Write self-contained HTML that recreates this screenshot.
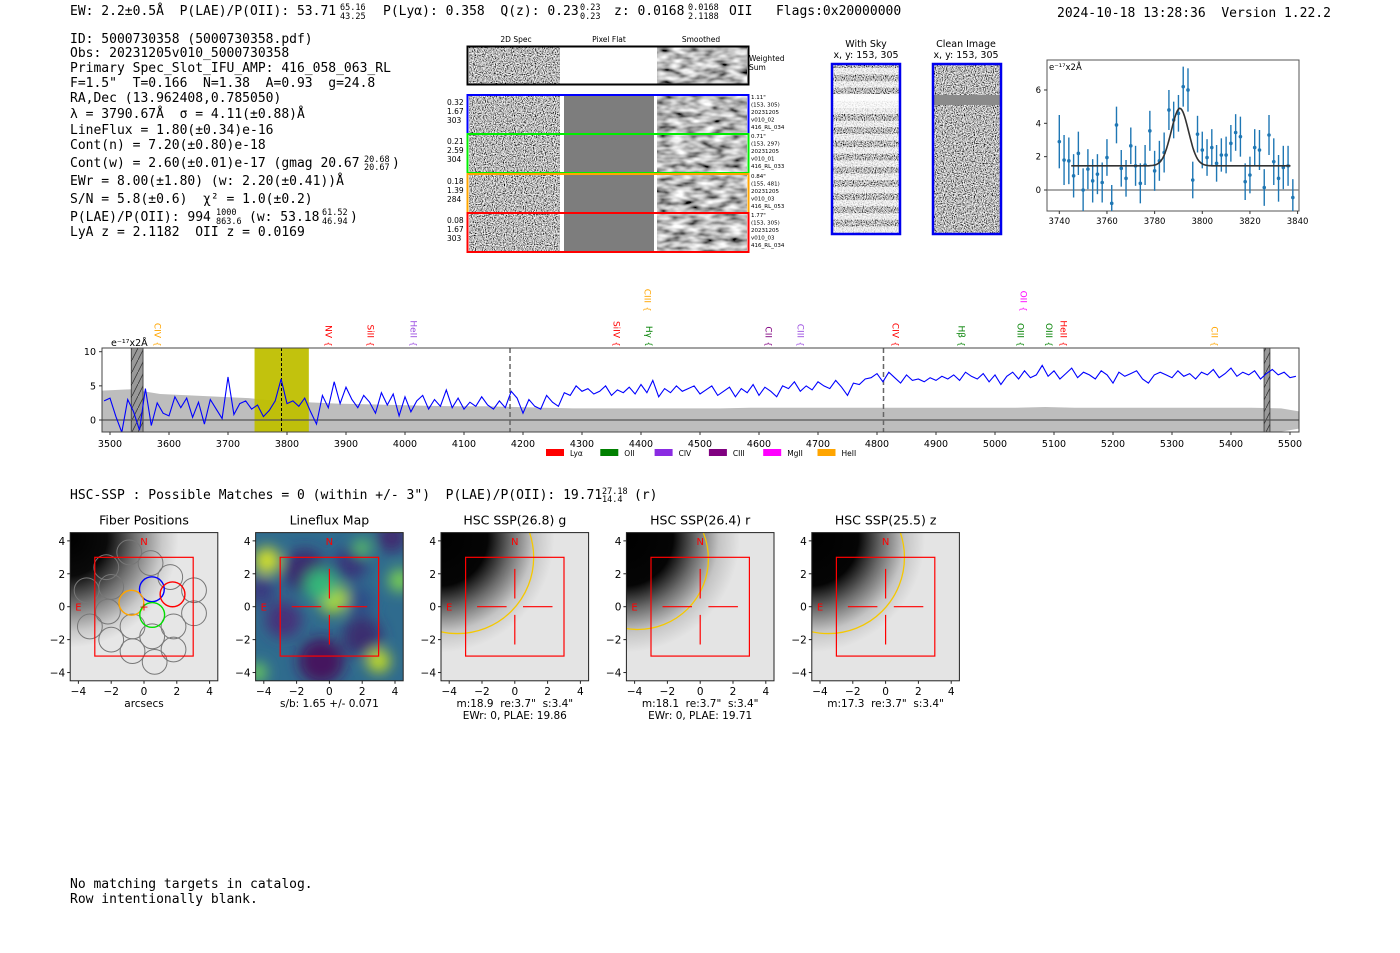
<!DOCTYPE html>
<html><head><meta charset="utf-8">
<style>
html,body{margin:0;padding:0;background:#fff;}
svg{display:block;}
.mono{font-family:"DejaVu Sans Mono","Liberation Mono",monospace;font-size:13px;fill:#000;white-space:pre;}
.sup{font-size:8.5px;}
.sans{font-family:"DejaVu Sans","Liberation Sans",sans-serif;fill:#000;}
</style></head>
<body>
<svg id="page" width="1400" height="953" viewBox="0 0 1400 953" xmlns="http://www.w3.org/2000/svg" xml:space="preserve">
<defs>
  <filter id="nz" x="0" y="0" width="1" height="1" filterUnits="objectBoundingBox">
    <feTurbulence type="fractalNoise" baseFrequency="0.9" numOctaves="1" seed="3"/>
    <feColorMatrix type="matrix" values="2.6 0 0 0 -0.8  2.6 0 0 0 -0.8  2.6 0 0 0 -0.8  0 0 0 0 1"/>
  </filter>
  <filter id="nzs" x="0" y="0" width="1" height="1">
    <feTurbulence type="fractalNoise" baseFrequency="0.07 0.16" numOctaves="2" seed="7"/>
    <feColorMatrix type="matrix" values="1.7 0 0 0 -0.35  1.7 0 0 0 -0.35  1.7 0 0 0 -0.35  0 0 0 0 1"/>
  </filter>
  <filter id="blur6"><feGaussianBlur stdDeviation="7"/></filter>
  <pattern id="hatch" width="6" height="12" patternUnits="userSpaceOnUse">
    <rect width="6" height="12" fill="#999"/><path d="M0 12 L6 0" stroke="#333" stroke-width="0.8"/>
  </pattern>
</defs>

<!-- header -->
<g>
  <text class="mono" x="70" y="15">EW: 2.2±0.5Å  P(LAE)/P(OII): 53.71</text>
  <text class="mono sup" x="340" y="10">65.16</text>
  <text class="mono sup" x="340" y="19">43.25</text>
  <text class="mono" x="383" y="15">P(Lyα): 0.358  Q(z): 0.23</text>
  <text class="mono sup" x="580" y="10">0.23</text>
  <text class="mono sup" x="580" y="19">0.23</text>
  <text class="mono" x="614" y="15">z: 0.0168</text>
  <text class="mono sup" x="688" y="10">0.0168</text>
  <text class="mono sup" x="688" y="19">2.1188</text>
  <text class="mono" x="729" y="15">OII   Flags:0x20000000</text>
  <text class="mono" x="1057" y="17">2024-10-18 13:28:36  Version 1.22.2</text>
</g>

<g>
  <text class="mono" x="70" y="43">ID: 5000730358 (5000730358.pdf)</text>
  <text class="mono" x="70" y="57">Obs: 20231205v010_5000730358</text>
  <text class="mono" x="70" y="72">Primary Spec_Slot_IFU_AMP: 416_058_063_RL</text>
  <text class="mono" x="70" y="87">F=1.5"  T=0.166  N=1.38  A=0.93  g=24.8</text>
  <text class="mono" x="70" y="102">RA,Dec (13.962408,0.785050)</text>
  <text class="mono" x="70" y="118">λ = 3790.67Å  σ = 4.11(±0.88)Å</text>
  <text class="mono" x="70" y="134">LineFlux = 1.80(±0.34)e-16</text>
  <text class="mono" x="70" y="149">Cont(n) = 7.20(±0.80)e-18</text>
  <text class="mono" x="70" y="167">Cont(w) = 2.60(±0.01)e-17 (gmag 20.67</text>
  <text class="mono sup" x="364" y="162">20.68</text>
  <text class="mono sup" x="364" y="170">20.67</text>
  <text class="mono" x="392" y="167">)</text>
  <text class="mono" x="70" y="185">EWr = 8.00(±1.80) (w: 2.20(±0.41))Å</text>
  <text class="mono" x="70" y="203">S/N = 5.8(±0.6)  χ² = 1.0(±0.2)</text>
  <text class="mono" x="70" y="221">P(LAE)/P(OII): 994</text>
  <text class="mono sup" x="216" y="215">1000</text>
  <text class="mono sup" x="216" y="224">863.6</text>
  <text class="mono" x="249" y="221">(w: 53.18</text>
  <text class="mono sup" x="322" y="215">61.52</text>
  <text class="mono sup" x="322" y="224">46.94</text>
  <text class="mono" x="350" y="221">)</text>
  <text class="mono" x="70" y="236">LyA z = 2.1182  OII z = 0.0169</text>
</g>

<g id="cutouts"></g>
<g id="fit"></g>
<g id="spec"></g>

<text class="mono" x="70" y="499">HSC-SSP : Possible Matches = 0 (within +/- 3")  P(LAE)/P(OII): 19.71</text>
<text class="mono sup" x="602" y="494">27.18</text>
<text class="mono sup" x="602" y="502">14.4</text>
<text class="mono" x="634" y="499">(r)</text>

<g id="panels"></g>

<text class="mono" x="70" y="888">No matching targets in catalog.</text>
<text class="mono" x="70" y="903">Row intentionally blank.</text>
</svg>

<script>
// ---------- data ----------
const fluxStart = 3490, fluxStep = 10;
const flux = [
2.8,3.2,0.5,-1.8,3.0,1.2,-1.5,4.6,-0.8,2.5,
1.0,0.6,3.4,1.8,3.2,0.4,2.6,-0.6,3.0,1.6,
0.2,6.3,0.8,2.4,2.8,1.6,2.2,0.5,1.4,2.8,
6.0,2.4,2.8,2.0,3.2,1.2,-0.6,3.6,1.8,5.6,
2.4,4.8,3.0,1.8,3.6,2.6,1.0,4.0,2.2,3.8,
0.6,3.4,1.2,2.8,3.6,1.6,3.0,2.0,4.4,1.8,
3.2,1.6,2.6,2.0,3.4,2.2,1.6,2.8,1.8,4.2,
3.2,1.0,3.0,2.0,1.6,3.6,2.6,2.0,4.0,3.6,
5.0,4.2,4.6,3.8,4.2,5.0,3.6,4.4,4.0,4.8,
3.8,5.2,4.0,5.8,3.4,4.6,4.0,5.0,4.2,4.6,
5.0,3.8,4.4,5.0,3.6,4.2,4.8,3.4,4.6,4.0,
5.2,3.6,4.8,4.2,3.4,5.0,4.6,5.6,4.2,5.0,
4.4,5.6,5.0,4.6,5.8,4.8,3.6,5.4,5.2,6.0,
6.2,6.8,5.6,7.0,6.2,5.4,6.6,5.8,6.0,5.6,
6.2,5.8,6.4,6.0,6.6,5.8,7.0,6.4,6.0,6.8,
5.6,6.6,5.2,6.4,7.0,6.0,7.2,6.2,6.6,8.0,
6.4,7.2,6.0,6.8,7.6,6.2,7.0,6.6,6.0,7.2,
6.6,5.4,7.0,6.4,6.8,7.2,6.0,5.4,6.6,7.0,
6.6,6.2,7.2,6.4,6.8,6.0,7.0,6.6,7.4,6.2,
6.8,7.6,6.4,7.0,6.6,7.2,6.0,6.8,7.4,6.6,
7.0,6.2,6.4];
const errStart = 3485, errStep = 50;
const err = [4.3,4.5,3.8,3.6,3.4,3.2,2.8,2.6,2.4,2.3,2.2,2.1,2.0,2.0,1.9,1.8,1.7,1.7,1.7,1.7,1.7,1.7,1.8,1.8,1.8,1.8,1.8,1.8,1.8,1.8,1.8,1.8,1.9,1.8,1.8,1.8,1.8,1.8,1.8,1.8,1.7,1.0];
const specTicks = [3500,3600,3700,3800,3900,4000,4100,4200,4300,4400,4500,4600,4700,4800,4900,5000,5100,5200,5300,5400,5500];
const specYTicks = [0,5,10];
const lineNames = ["CIV","NV","SiII","HeII","SiIV","CIII","Hγ","CII","CIII","CIV","Hβ","OIII","OII","OIII","HeII","CII"];
const lineWaves = [3581,3871,3942,4015,4359,4412,4414,4617,4671,4832,4944,5044,5049,5092,5117,5373];
const lineColors = ["#ffa500","#ff0000","#ff0000","#9b4de0","#ff0000","#ffa500","#008000","#800080","#9b4de0","#ff0000","#008000","#008000","#ff00ff","#008000","#ff0000","#ffa500"];
const lineHigh = [0,0,0,0,0,1,0,0,0,0,0,0,1,0,0,0];
const legendNames = ["Lyα","OII","CIV","CIII","MgII","HeII"];
const legendColors = ["#ff0000","#008000","#8a2be2","#800080","#ff00ff","#ffa500"];

const fitWaves = [3740,3742,3744,3746,3748,3750,3752,3754,3756,3758,3760,3762,3764,3766,3768,3770,3772,3774,3776,3778,3780,3782,3784,3786,3788,3790,3792,3794,3796,3798,3800,3802,3804,3806,3808,3810,3812,3814,3816,3818,3820,3822,3824,3826,3828,3830,3832,3834,3836,3838];
const fitFlux = [2.9,1.8,1.75,0.85,2.2,0.0,1.25,0.55,0.95,0.45,1.95,-0.8,3.9,1.3,0.7,2.65,1.45,0.4,1.5,3.55,1.15,1.75,2.25,4.8,4.2,4.6,6.2,6.0,0.6,3.35,2.4,1.95,2.55,1.6,2.1,2.1,2.8,3.45,3.2,0.5,0.9,2.55,2.4,0.15,3.3,1.7,0.7,1.35,1.45,-0.45];
const fitErr = [1.6,1.5,1.4,1.3,1.3,1.3,1.2,1.3,1.2,1.2,1.1,1.1,1.1,1.1,1.1,1.1,1.2,1.2,1.2,1.2,1.2,1.2,1.2,1.2,1.1,1.1,1.2,1.3,1.1,1.1,1.1,1.1,1.1,1.1,1.0,1.1,1.1,1.1,1.2,1.1,1.1,1.1,1.2,1.1,1.2,1.4,1.4,1.3,1.2,1.1];
const fitCont = 1.45, fitAmp = 3.45, fitCenter = 3790.6, fitSigma = 3.6;
const fitXTicks = [3740,3760,3780,3800,3820,3840];
const fitYTicks = [0,2,4,6];

const fiberX = [-2.3,-0.9,0.4,1.6,3.05,3.05,-2.0,-3.3,-2.0,-0.7,0.5,1.8,-0.7,0.65,1.8,-2.2,-3.5];
const fiberY = [2.4,3.3,2.65,1.8,1.0,-0.4,1.2,-1.2,-2.0,-1.2,-1.8,-1.2,-2.7,-3.35,-2.6,-0.3,1.0];
const selFiberX = [0.48,1.74,-0.77,0.5];
const selFiberY = [1.06,0.75,0.24,-0.5];
const selFiberColor = ["#0000ff","#ff0000","#ffa500","#00dd00"];
const panelTitles = ["Fiber Positions","Lineflux Map","HSC SSP(26.8) g","HSC SSP(26.4) r","HSC SSP(25.5) z"];
const panelNotes1 = ["arcsecs","s/b: 1.65 +/- 0.071","m:18.9  re:3.7\"  s:3.4\"","m:18.1  re:3.7\"  s:3.4\"","m:17.3  re:3.7\"  s:3.4\""];
const panelNotes2 = ["","","EWr: 0, PLAE: 19.86","EWr: 0, PLAE: 19.71",""];
const panelTicks = [-4,-2,0,2,4];
const ellipseCx = [null,null,-3.5,-3.8,-3.5];
const ellipseCy = [null,null,3.0,2.9,3.0];
const ellipseR = [null,null,4.65,4.3,4.65];

const NS = "http://www.w3.org/2000/svg";
function mk(parent, tag, attrs, txt){
  const e = document.createElementNS(NS, tag);
  for (const k in attrs) e.setAttribute(k, attrs[k]);
  if (txt !== undefined) e.textContent = txt;
  parent.appendChild(e); return e;
}

// ---------- cutouts ----------
(function(){
  const g = document.getElementById('cutouts');
  const hdr = [["2D Spec",516],["Pixel Flat",609],["Smoothed",701]];
  hdr.forEach(h=>{ const t=mk(g,'text',{x:h[1],y:42,'font-size':7.5,'text-anchor':'middle',class:'sans'},h[0]);
      });
  const ws = mk(g,'g',{});
   
  mk(ws,'rect',{x:469,y:47,width:91,height:37,fill:'#888',filter:'url(#nz)'});
  mk(ws,'rect',{x:657,y:47,width:90,height:37,fill:'#888',filter:'url(#nzs)'});
  mk(ws,'rect',{x:467.5,y:46.5,width:281,height:38,fill:'none',stroke:'#000','stroke-width':2});
  mk(ws,'text',{x:749,y:61,'font-size':7.5,class:'sans'},'Weighted');
  mk(ws,'text',{x:749,y:70,'font-size':7.5,class:'sans'},'Sum');
  const rows = [[95,'#0000ff',['0.32','1.67','303'],['1.11"','(153, 305)','20231205','v010_02','416_RL_034']],
                [134,'#00ee00',['0.21','2.59','304'],['0.71"','(153, 297)','20231205','v010_01','416_RL_033']],
                [174,'#ffa500',['0.18','1.39','284'],['0.84"','(155, 481)','20231205','v010_03','416_RL_053']],
                [213,'#ff0000',['0.08','1.67','303'],['1.77"','(153, 305)','20231205','v010_03','416_RL_034']]];
  rows.forEach((r,i)=>{
    const rg = mk(g,'g',{});
     
    const y=r[0];
    mk(rg,'rect',{x:469,y:y,width:91,height:39,fill:'#888',filter:'url(#nz)'});
    mk(rg,'rect',{x:564,y:y,width:90,height:39,fill:'#7d7d7d'});
    mk(rg,'rect',{x:657,y:y,width:90,height:39,fill:'#888',filter:'url(#nzs)'});
    mk(rg,'rect',{x:467.5,y:y,width:281,height:39,fill:'none',stroke:r[1],'stroke-width':2});
    r[2].forEach((s,j)=>mk(rg,'text',{x:447,y:y+10+j*9,'font-size':7.5,class:'sans'},s));
    r[3].forEach((s,j)=>mk(rg,'text',{x:751,y:y+4+j*7.5,'font-size':5.5,class:'sans'},s));
  });
  const sky = mk(g,'g',{});
   
  mk(sky,'text',{x:866,y:47,'font-size':9.5,'text-anchor':'middle',class:'sans'},'With Sky');
  mk(sky,'text',{x:866,y:58,'font-size':9.5,'text-anchor':'middle',class:'sans'},'x, y: 153, 305');
  mk(sky,'rect',{x:832,y:64,width:68,height:170,fill:'#888',filter:'url(#nz)'});
  for(let yy=68; yy<232; yy+=13.2){ mk(sky,'rect',{x:832,y:yy,width:68,height:6.5,fill:'#fff',opacity:0.7}); }
  mk(sky,'rect',{x:832,y:94,width:68,height:14,fill:'#fff',opacity:0.85});
  mk(sky,'rect',{x:832,y:64,width:68,height:170,fill:'none',stroke:'#0000ee','stroke-width':2.5});
  const cl = mk(g,'g',{});
   
  mk(cl,'text',{x:966,y:47,'font-size':9.5,'text-anchor':'middle',class:'sans'},'Clean Image');
  mk(cl,'text',{x:966,y:58,'font-size':9.5,'text-anchor':'middle',class:'sans'},'x, y: 153, 305');
  mk(cl,'rect',{x:933,y:64,width:68,height:170,fill:'#888',filter:'url(#nz)'});
  mk(cl,'rect',{x:933,y:95,width:68,height:10,fill:'#8a8a8a'});
  mk(cl,'rect',{x:933,y:64,width:68,height:170,fill:'none',stroke:'#0000ee','stroke-width':2.5});
})();

// ---------- fit plot ----------
(function(){
  const g = document.getElementById('fit');
  const L=1047, R=1299, T=60, B=211;
  const fx = w => 1059.3 + (w-3740)*2.383;
  const fy = v => 190 - v*16.67;
  mk(g,'rect',{x:L,y:T,width:R-L,height:B-T,fill:'#fff',stroke:'#555','stroke-width':1});
  mk(g,'line',{x1:L,x2:R,y1:fy(0),y2:fy(0),stroke:'#777','stroke-width':1.2});
  const clip = mk(g,'clipPath',{id:'fitclip'}); mk(clip,'rect',{x:L,y:T,width:R-L,height:B-T});
  const pg = mk(g,'g',{'clip-path':'url(#fitclip)'});
  fitWaves.forEach((w,i)=>{
    const eb = mk(pg,'line',{x1:fx(w),x2:fx(w),y1:fy(fitFlux[i]-fitErr[i]),y2:fy(fitFlux[i]+fitErr[i]),stroke:'#1f77b4','stroke-width':1.4});
     
    const p = mk(pg,'circle',{cx:fx(w),cy:fy(fitFlux[i]),r:1.8,fill:'#1f77b4'});
     
  });
  let d='';
  for(let w=3745; w<=3837; w+=0.5){
    const v = fitCont + fitAmp*Math.exp(-0.5*Math.pow((w-fitCenter)/fitSigma,2));
    d += (d?'L':'M')+fx(w).toFixed(1)+' '+fy(v).toFixed(1);
  }
  const fl = mk(pg,'path',{d:d,fill:'none',stroke:'#333','stroke-width':1.6});
   
  fitXTicks.forEach(t=>{ mk(g,'line',{x1:fx(t),x2:fx(t),y1:B,y2:B+3,stroke:'#333'});
    const tl=mk(g,'text',{x:fx(t),y:B+13,'font-size':8.5,'text-anchor':'middle',class:'sans'},t);
      });
  fitYTicks.forEach(t=>{ mk(g,'line',{x1:L-3,x2:L,y1:fy(t),y2:fy(t),stroke:'#333'});
    const tl=mk(g,'text',{x:L-6,y:fy(t)+3,'font-size':8.5,'text-anchor':'end',class:'sans'},t);
      });
  const u = mk(g,'text',{x:L+2,y:T+10,'font-size':8.5,class:'sans'},'e⁻¹⁷x2Å');
   
})();

// ---------- spectrum ----------
(function(){
  const g = document.getElementById('spec');
  const L=102, R=1299, T=348, B=432;
  const sx = w => 110 + (w-3500)*0.59;
  const sy = v => 420 - v*6.83;
  mk(g,'rect',{x:L,y:T,width:R-L,height:B-T,fill:'#fff'});
  const clip = mk(g,'clipPath',{id:'specclip'}); mk(clip,'rect',{x:L,y:T,width:R-L,height:B-T});
  const pg = mk(g,'g',{'clip-path':'url(#specclip)'});
  let top='', bot='';
  err.forEach((e,i)=>{ const w=errStart+i*errStep; top += (top?'L':'M')+sx(w).toFixed(1)+' '+sy(e).toFixed(1); });
  for(let i=err.length-1;i>=0;i--){ const w=errStart+i*errStep; bot += 'L'+sx(w).toFixed(1)+' '+sy(-err[i]).toFixed(1); }
  const band = mk(pg,'path',{d:top+bot+'Z',fill:'#bdbdbd'});
   
  const yb = mk(pg,'rect',{x:sx(3745),y:T,width:sx(3837)-sx(3745),height:B-T,fill:'#bfbf00',opacity:0.95});
   
  [[3536,3556],[5456,5466]].forEach(h=>{ const r=mk(pg,'rect',{x:sx(h[0]),y:T,width:sx(h[1])-sx(h[0]),height:B-T,fill:'url(#hatch)',stroke:'#333','stroke-width':0.8});
      });
  mk(pg,'line',{x1:L,x2:R,y1:sy(0),y2:sy(0),stroke:'#555','stroke-width':1.2});
  mk(pg,'line',{x1:sx(3790.67),x2:sx(3790.67),y1:T,y2:B,stroke:'#000','stroke-width':1,'stroke-dasharray':'3,2'});
  [4178,4811].forEach(w=>mk(pg,'line',{x1:sx(w),x2:sx(w),y1:T,y2:B,stroke:'#666','stroke-width':1.5,'stroke-dasharray':'5,3'}));
  let d='';
  flux.forEach((v,i)=>{ const w=fluxStart+i*fluxStep; d += (d?'L':'M')+sx(w).toFixed(1)+' '+sy(v).toFixed(1); });
  const ln = mk(pg,'path',{d:d,fill:'none',stroke:'#0000ff','stroke-width':1.1});
   
  mk(g,'rect',{x:L,y:T,width:R-L,height:B-T,fill:'none',stroke:'#444','stroke-width':1});
  specTicks.forEach(t=>{ mk(g,'line',{x1:sx(t),x2:sx(t),y1:B,y2:B+3,stroke:'#333'});
    const tl=mk(g,'text',{x:sx(t),y:B+15,'font-size':9.5,'text-anchor':'middle',class:'sans'},t);
      });
  specYTicks.forEach(t=>{ mk(g,'line',{x1:L-3,x2:L,y1:sy(t),y2:sy(t),stroke:'#333'});
    const tl=mk(g,'text',{x:L-6,y:sy(t)+3.5,'font-size':9.5,'text-anchor':'end',class:'sans'},t);
      });
  const u=mk(g,'text',{x:111,y:346,'font-size':9.5,class:'sans'},'e⁻¹⁷x2Å');
   
  lineNames.forEach((n,i)=>{
    const x=sx(lineWaves[i]); const yEnd = lineHigh[i] ? 303 : 338;
    const t=mk(g,'text',{x:0,y:0,'font-size':9,'text-anchor':'end',transform:`translate(${x-3.5},${yEnd}) rotate(90)`,class:'sans'},n);
     
    t.style.fill=lineColors[i];
    const b=mk(g,'text',{x:0,y:0,'font-size':8,'text-anchor':'middle',transform:`translate(${x-3},${yEnd+6}) rotate(90)`,class:'sans'},'{');
    b.style.fill=lineColors[i];
  });
  legendNames.forEach((n,i)=>{
    const x0 = 546 + i*54.3;
    const lg=mk(g,'g',{});
     
    mk(lg,'rect',{x:x0,y:449,width:18,height:7,fill:legendColors[i]});
    mk(lg,'text',{x:x0+24,y:456,'font-size':7.5,class:'sans'},n);
  });
})();

// ---------- imaging panels ----------
(function(){
  const g = document.getElementById('panels');
  const left0 = 70.2, step = 185.4, W = 147.6, T = 532.6, H = 148.2;
  panelTitles.forEach((title,p)=>{
    const L = left0 + p*step;
    const cx = L + W/2, cy = T + H/2;
    const px = v => cx + v*16.4, py = v => cy - v*16.46;
    const pg = mk(g,'g',{});
    
    
    const cid='pc'+p; const cp=mk(pg,'clipPath',{id:cid}); mk(cp,'rect',{x:L,y:T,width:W,height:H});
    const ig = mk(pg,'g',{'clip-path':`url(#${cid})`});
    if (p===1){
      mk(ig,'rect',{x:L,y:T,width:W,height:H,fill:'#2f6b8e'});
      const bg = mk(ig,'g',{filter:'url(#blur6)'});
      [[-1.5,2.2,1.3,'#3b2a6e'],[-2.8,-0.8,1.1,'#46307a'],[-0.5,-3.3,1.4,'#44155f'],[2.0,-1.8,1.2,'#3a2e70'],[1.3,2.6,1.0,'#39357a'],[3.8,4.2,0.9,'#3f2a70'],[-4.2,1.0,0.9,'#3b3b80'],[1.8,0.3,0.9,'#2f4d88']].forEach(b=>mk(bg,'ellipse',{cx:px(b[0]),cy:py(b[1]),rx:b[2]*16.4,ry:b[2]*16.4,fill:b[3]}));
      [[-3.8,2.8,0.8,'#d6e22a'],[0.2,0.5,0.9,'#b5de2b'],[3.0,-3.3,0.7,'#c8e020'],[4.3,1.6,0.7,'#7ad151'],[-4.4,-4.0,0.6,'#6ccd5a'],[-0.5,1.3,1.0,'#35b779'],[2.0,3.6,0.5,'#5ec962']].forEach(b=>mk(bg,'ellipse',{cx:px(b[0]),cy:py(b[1]),rx:b[2]*16.4,ry:b[2]*16.4,fill:b[3]}));
    } else {
      const gid='rg'+p;
      const rg=mk(pg,'radialGradient',{id:gid,gradientUnits:'userSpaceOnUse',cx:px(-4.6),cy:py(4.2),r:p===0?110:115});
      const stops = p===0 ? [[0,'#000'],[0.35,'#0a0a0a'],[0.6,'#707070'],[0.85,'#c8c8c8'],[1,'#e6e6e6']]
                          : [[0,'#000'],[0.42,'#050505'],[0.62,'#6a6a6a'],[0.82,'#c4c4c4'],[1,'#e4e4e4']];
      stops.forEach(s=>mk(rg,'stop',{offset:s[0],'stop-color':s[1]}));
      mk(ig,'rect',{x:L,y:T,width:W,height:H,fill:'#ececec'});
      mk(ig,'rect',{x:L,y:T,width:W,height:H,fill:`url(#${gid})`});
    }
    if (p===0){
      fiberX.forEach((fxv,i)=>{ const c=mk(ig,'circle',{cx:px(fxv),cy:py(fiberY[i]),r:12.4,fill:'none',stroke:'#777','stroke-width':1});
          });
      selFiberX.forEach((fxv,i)=>{ const c=mk(ig,'circle',{cx:px(fxv),cy:py(selFiberY[i]),r:12.4,fill:'none',stroke:selFiberColor[i],'stroke-width':1.4});
          });
      mk(ig,'text',{x:px(0),y:py(0)+4,'font-size':11,'text-anchor':'middle',fill:'#f00',class:'sans',style:'fill:#f00'},'+');
    }
    if (ellipseR[p]){
      const e=mk(ig,'circle',{cx:px(ellipseCx[p]),cy:py(ellipseCy[p]),r:ellipseR[p]*16.4,fill:'none',stroke:'#f5c800','stroke-width':1.3});
       
    }
    mk(ig,'rect',{x:px(-3),y:py(3),width:px(3)-px(-3),height:py(-3)-py(3),fill:'none',stroke:'#f00','stroke-width':1.2});
    if (p>0){
      [[-2.3,0,-0.5,0],[0.5,0,2.3,0],[0,2.3,0,0.5],[0,-0.5,0,-2.3]].forEach(s=>mk(ig,'line',{x1:px(s[0]),y1:py(s[1]),x2:px(s[2]),y2:py(s[3]),stroke:'#f00','stroke-width':1.2}));
    }
    mk(ig,'text',{x:px(0),y:py(4)+4,'font-size':10,'text-anchor':'middle',class:'sans',style:'fill:#f00'},'N');
    mk(ig,'text',{x:px(-4),y:py(0)+4,'font-size':10,'text-anchor':'middle',class:'sans',style:'fill:#f00'},'E');
    mk(pg,'rect',{x:L,y:T,width:W,height:H,fill:'none',stroke:'#222','stroke-width':1});
    const tt=mk(pg,'text',{x:cx,y:T-8,'font-size':12.5,'text-anchor':'middle',class:'sans'},title);
     
    panelTicks.forEach(t=>{
      mk(pg,'line',{x1:px(t),x2:px(t),y1:T+H,y2:T+H+3,stroke:'#222'});
      mk(pg,'text',{x:px(t),y:T+H+14,'font-size':10.5,'text-anchor':'middle',class:'sans'},t<0?'−'+(-t):String(t));
      mk(pg,'line',{x1:L-3,x2:L,y1:py(t),y2:py(t),stroke:'#222'});
      mk(pg,'text',{x:L-5,y:py(t)+4,'font-size':10.5,'text-anchor':'end',class:'sans'},t<0?'−'+(-t):String(t));
    });
    const n1=mk(pg,'text',{x:cx,y:T+H+26,'font-size':10.5,'text-anchor':'middle',class:'sans',style:'white-space:pre'},panelNotes1[p]);
     
    if(panelNotes2[p]) mk(pg,'text',{x:cx,y:T+H+38,'font-size':10.5,'text-anchor':'middle',class:'sans'},panelNotes2[p]);
  });
})();
</script>
</body></html>
